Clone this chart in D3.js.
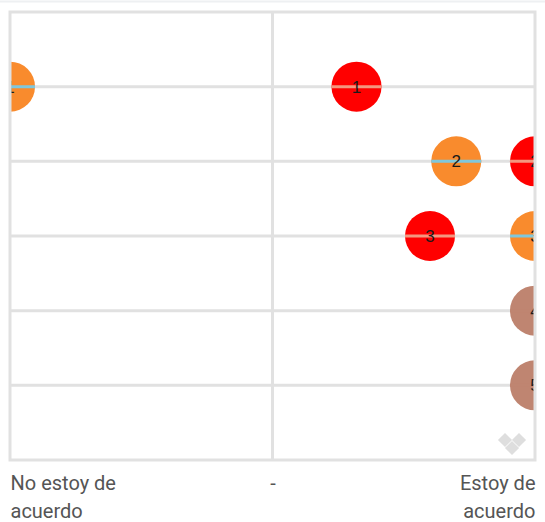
<!DOCTYPE html>
<html>
<head>
<meta charset="utf-8">
<script src="https://cdn.jsdelivr.net/npm/d3@7"></script>
<style>
  body { margin: 0; background: #fff; }
  svg { display: block; }
</style>
</head>
<body>
<svg id="chart" width="545" height="522"></svg>
<script>
// rows (statements) and scale end labels
var rows = ["1", "2", "3", "4", "5"];
var tickValues = [0, 50, 100];
var tickLabels = [["No estoy de", "acuerdo"], ["-"], ["Estoy de", "acuerdo"]];

// one value per row for each group, null = no dot
var redValues    = [66, 100, 80, null, null];
var orangeValues = [0, 85, 100, null, null];
var brownValues  = [null, null, null, 100, 100];

var groups = [
  { values: redValues,    fill: "#ff0000", line: "#f3977f" },
  { values: orangeValues, fill: "#f98b2d", line: "#7fc7dc" },
  { values: brownValues,  fill: "#bf8571", line: "#bf8571" }
];

var svg = d3.select("#chart");
// note: "top" is taken by window.top, so prefix these
var plotL = 10, plotR = 535, plotT = 12, plotB = 460;
var r = 25;

var x = d3.scaleLinear().domain([0, 100]).range([plotL, plotR]);
var y = d3.scalePoint().domain(rows).range([plotT, plotB]).padding(1);

// faint page edge at the very top
svg.append("line")
  .attr("x1", 0).attr("x2", 545).attr("y1", 1.5).attr("y2", 1.5)
  .attr("stroke", "#eef0f2").attr("stroke-width", 2);

svg.append("clipPath").attr("id", "plot")
  .append("rect")
  .attr("x", plotL).attr("y", plotT)
  .attr("width", plotR - plotL).attr("height", plotB - plotT);

var grid = svg.append("g").attr("stroke", "#e1e1e1").attr("stroke-width", 3);

// row lines
grid.selectAll(".row")
  .data(rows)
  .enter().append("line")
  .attr("x1", plotL).attr("x2", plotR)
  .attr("y1", function(d) { return y(d); })
  .attr("y2", function(d) { return y(d); });

// middle line
grid.append("line")
  .attr("x1", x(50)).attr("x2", x(50))
  .attr("y1", plotT).attr("y2", plotB);

var dots = svg.append("g").attr("clip-path", "url(#plot)");

groups.forEach(function(grp) {
  var pts = [];
  grp.values.forEach(function(v, i) {
    if (v !== null) pts.push({ row: rows[i], value: v });
  });

  var g = dots.append("g");
  var dot = g.selectAll("g")
    .data(pts)
    .enter().append("g")
    .attr("transform", function(d) {
      return "translate(" + x(d.value) + "," + y(d.row) + ")";
    });

  dot.append("circle")
    .attr("r", r)
    .attr("fill", grp.fill);

  dot.append("line")
    .attr("x1", -r).attr("x2", r)
    .attr("stroke", grp.line)
    .attr("stroke-width", 3);

  dot.append("text")
    .attr("text-anchor", "middle")
    .attr("dy", "0.36em")
    .attr("font-family", "Liberation Sans, Arial, sans-serif")
    .attr("font-size", 17)
    .attr("fill", "#1a1a1a")
    .text(function(d) { return d.row; });
});

// frame on top
svg.append("rect")
  .attr("x", plotL).attr("y", plotT)
  .attr("width", plotR - plotL).attr("height", plotB - plotT)
  .attr("fill", "none")
  .attr("stroke", "#e1e1e1").attr("stroke-width", 3);

// little logo mark in the corner
var logo = svg.append("g")
  .attr("transform", "translate(" + (plotR - 23) + "," + (plotB - 19) + ")")
  .attr("fill", "#dedede");
[[-7, -1], [7, -1], [0, 7]].forEach(function(p) {
  logo.append("rect")
    .attr("x", -5).attr("y", -5).attr("width", 10).attr("height", 10)
    .attr("transform", "translate(" + p[0] + "," + p[1] + ") rotate(45)");
});

// bottom axis with the scale labels
var axis = d3.axisBottom(x)
  .tickValues(tickValues)
  .tickSize(0)
  .tickFormat("");

var ax = svg.append("g")
  .attr("transform", "translate(0," + plotB + ")")
  .call(axis);
ax.select(".domain").remove();

ax.selectAll(".tick text").remove();
ax.selectAll(".tick").each(function(d, i) {
  var anchor = i === 0 ? "start" : (i === tickValues.length - 1 ? "end" : "middle");
  var t = d3.select(this).append("text")
    .attr("fill", "#555")
    .attr("font-family", "Roboto, sans-serif")
    .attr("font-size", 20)
    .attr("text-anchor", anchor)
    .attr("y", 30);
  tickLabels[i].forEach(function(line, k) {
    t.append("tspan").attr("x", 0).attr("dy", k === 0 ? 0 : 28).text(line);
  });
});
</script>
</body>
</html>
